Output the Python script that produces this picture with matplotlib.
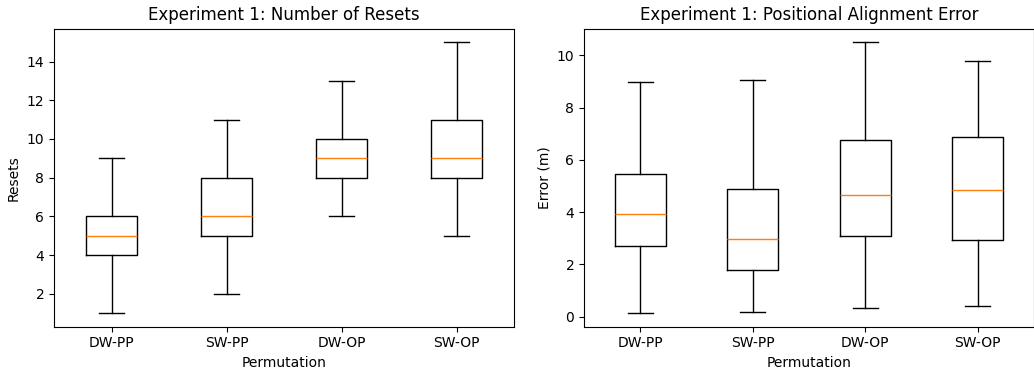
import matplotlib
matplotlib.use("Agg")
import matplotlib.pyplot as plt

perms = ["DW-PP", "SW-PP", "DW-OP", "SW-OP"]

# resets: whisker low, q1, median, q3, whisker high
resets_lo = [1, 2, 6, 5]
resets_q1 = [4, 5, 8, 8]
resets_med = [5, 6, 9, 9]
resets_q3 = [6, 8, 10, 11]
resets_hi = [9, 11, 13, 15]

# positional error (m)
err_lo = [0.13, 0.19, 0.33, 0.42]
err_q1 = [2.69, 1.78, 3.08, 2.93]
err_med = [3.91, 2.98, 4.64, 4.85]
err_q3 = [5.44, 4.87, 6.75, 6.89]
err_hi = [8.96, 9.06, 10.50, 9.80]


def make_stats(lo, q1, med, q3, hi):
    stats = []
    for i in range(len(perms)):
        stats.append({"whislo": lo[i], "q1": q1[i], "med": med[i],
                      "q3": q3[i], "whishi": hi[i], "fliers": [],
                      "label": perms[i]})
    return stats


fig = plt.figure(figsize=(10.34, 3.73), dpi=100)
ax1 = fig.add_axes([54/1034, 1-326.7/373, 460/1034, 298/373])
ax2 = fig.add_axes([584/1034, 1-326.7/373, 450/1034, 298/373])

ax1.bxp(make_stats(resets_lo, resets_q1, resets_med, resets_q3, resets_hi),
        widths=0.45, showfliers=False)
ax1.set_title("Experiment 1: Number of Resets")
ax1.set_xlabel("Permutation")
ax1.set_ylabel("Resets")

ax2.bxp(make_stats(err_lo, err_q1, err_med, err_q3, err_hi),
        widths=0.45, showfliers=False)
ax2.set_title("Experiment 1: Positional Alignment Error")
ax2.set_xlabel("Permutation")
ax2.set_ylabel("Error (m)")

fig.savefig("out.png", dpi=100)
